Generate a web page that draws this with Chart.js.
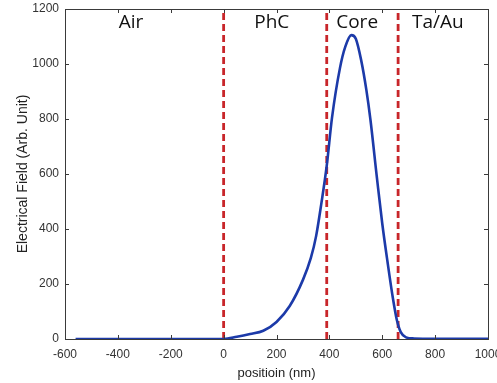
<!DOCTYPE html>
<html>
<head>
<meta charset="utf-8">
<script src="https://cdn.jsdelivr.net/npm/chart.js@4"></script>
<style>
  html, body { margin: 0; padding: 0; background: #fff; }
  #wrap { width: 497px; height: 383px; position: relative; }
</style>
</head>
<body>
<div id="wrap"><canvas id="chart"></canvas></div>
<script>
// campo elétrico ao longo da posição (nm)
const posicoes = [-560, -400, -200, 0, 50, 100, 150, 200, 250, 300, 330, 350, 370, 390, 410, 440, 460, 483, 500, 520, 540, 555, 580, 600, 620, 640, 655, 670, 690, 720, 800, 1000]
const campo    = [0, 0, 0, 0, 8, 18, 30, 62, 120, 215, 295, 375, 495, 630, 805, 985, 1062, 1105, 1092, 1015, 905, 800, 585, 420, 280, 150, 70, 25, 6, 2, 1, 1]

// interfaces (linhas tracejadas) e rótulos das regiões
const interfaces = [0, 390, 660]
const regioes    = ['Air', 'PhC', 'Core', 'Ta/Au']
const regioesX   = [-350, 182, 505, 810]
const regioesY   = 1150

const xTicks = [-600, -400, -200, 0, 200, 400, 600, 800, 1000]
const yTicks = [0, 200, 400, 600, 800, 1000, 1200]

const fam = 'Liberation Sans, Arial, sans-serif'
const tickFont = { family: fam, size: 12 }
const axisColor = '#3a3a3a'

const datasets = [{
  data: posicoes.map((x, i) => ({ x, y: campo[i] })),
  borderColor: '#1c3aa9',
  borderWidth: 2.6,
  pointRadius: 0,
  tension: 0.4,
  cubicInterpolationMode: 'monotone',
  order: 0,
}]
for (const xi of interfaces) {
  datasets.push({
    data: [{ x: xi, y: 0 }, { x: xi, y: 1200 }],
    borderColor: '#c8262a',
    borderWidth: 2.8,
    borderDash: [7, 4],
    pointRadius: 0,
    order: 1,
  })
}

// moldura + ticks para dentro (estilo MATLAB) e rótulos das regiões
const frame = {
  id: 'frame',
  afterDatasetsDraw(chart) {
    const { ctx, chartArea: a, scales: { x, y } } = chart
    ctx.save()
    ctx.strokeStyle = axisColor
    ctx.lineWidth = 1
    ctx.strokeRect(a.left + 0.5, a.top + 0.5, a.right - a.left, a.bottom - a.top)
    ctx.beginPath()
    for (const v of xTicks) {
      const px = Math.round(x.getPixelForValue(v)) + 0.5
      ctx.moveTo(px, a.bottom); ctx.lineTo(px, a.bottom - 4)
      ctx.moveTo(px, a.top); ctx.lineTo(px, a.top + 4)
    }
    for (const v of yTicks) {
      const py = Math.round(y.getPixelForValue(v)) + 0.5
      ctx.moveTo(a.left, py); ctx.lineTo(a.left + 4, py)
      ctx.moveTo(a.right, py); ctx.lineTo(a.right - 4, py)
    }
    ctx.stroke()

    ctx.fillStyle = '#111'
    ctx.font = '19px "Open Sans", "DejaVu Sans", sans-serif'
    ctx.textAlign = 'center'
    ctx.textBaseline = 'middle'
    regioes.forEach((r, i) => {
      ctx.fillText(r, x.getPixelForValue(regioesX[i]), y.getPixelForValue(regioesY))
    })
    ctx.restore()
  },
}

new Chart(document.getElementById('chart'), {
  type: 'line',
  data: { datasets },
  options: {
    responsive: true,
    maintainAspectRatio: false,
    animation: false,
    layout: { autoPadding: false, padding: { left: 0, top: 9, right: 9, bottom: 0 } },
    plugins: { legend: { display: false }, tooltip: { enabled: false } },
    scales: {
      x: {
        type: 'linear',
        min: -600,
        max: 1000,
        afterBuildTicks: s => { s.ticks = xTicks.map(v => ({ value: v })) },
        afterFit: s => { s.height = 44; s.paddingLeft = 0; s.paddingRight = 0 },
        grid: { display: false, drawTicks: false },
        border: { display: false },
        ticks: { color: '#333', font: tickFont, padding: 8, maxRotation: 0, autoSkip: false, callback: v => String(v) },
        title: { display: true, text: 'positioin (nm)', color: '#222', font: { family: fam, size: 13 }, padding: { top: 0, bottom: 2 } },
      },
      y: {
        min: 0,
        max: 1200,
        afterBuildTicks: s => { s.ticks = yTicks.map(v => ({ value: v })) },
        afterFit: s => { s.width = 65; s.paddingTop = 0; s.paddingBottom = 0 },
        grid: { display: false, drawTicks: false },
        border: { display: false },
        ticks: { color: '#333', font: tickFont, padding: 6, callback: v => String(v) },
        title: { display: true, text: 'Electrical Field (Arb. Unit)', color: '#222', font: { family: fam, size: 14 }, padding: { top: 15, bottom: 0 } },
      },
    },
  },
  plugins: [frame],
})
</script>
</body>
</html>
